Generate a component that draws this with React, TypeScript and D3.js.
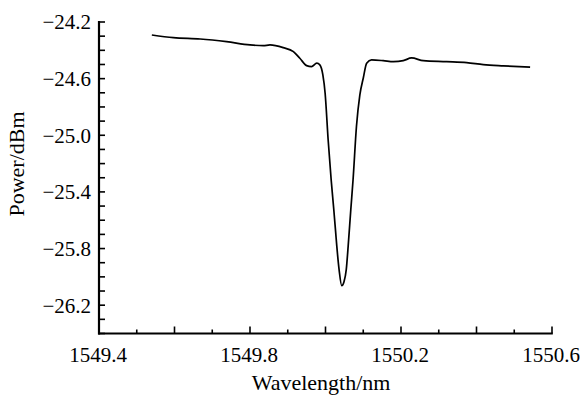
import React from "react";
import * as d3 from "d3";

const wavelength = [
  1549.54, 1549.597, 1549.668, 1549.738, 1549.8, 1549.835, 1549.853, 1549.888,
  1549.915, 1549.932, 1549.95, 1549.963, 1549.977, 1549.985, 1549.993, 1549.999,
  1550.007, 1550.015, 1550.022, 1550.027, 1550.03, 1550.036, 1550.043, 1550.049,
  1550.055, 1550.06, 1550.067, 1550.073, 1550.082, 1550.091, 1550.1, 1550.109,
  1550.122, 1550.153, 1550.18, 1550.206, 1550.228, 1550.259, 1550.321, 1550.374,
  1550.418, 1550.471, 1550.542,
];
const power = [
  -24.292, -24.311, -24.32, -24.339, -24.362, -24.367, -24.362, -24.381,
  -24.409, -24.456, -24.508, -24.515, -24.491, -24.503, -24.574, -24.703,
  -25.032, -25.314, -25.526, -25.688, -25.785, -25.949, -26.062, -26.034,
  -25.949, -25.785, -25.526, -25.314, -24.938, -24.715, -24.597, -24.491,
  -24.468, -24.473, -24.48, -24.473, -24.454, -24.473, -24.48, -24.487,
  -24.501, -24.51, -24.519,
];
const xTickLabels = [1549.4, 1549.8, 1550.2, 1550.6];
const yTickLabels = [-24.2, -24.6, -25.0, -25.4, -25.8, -26.2];
const xTitle = "Wavelength/nm";
const yTitle = "Power/dBm";

export default function App() {
  const W = 588, H = 396;
  const x = d3.scaleLinear().domain([1549.4, 1550.6]).range([99, 552]);
  const y = d3.scaleLinear().domain([-26.4, -24.2]).range([333.5, 22]);
  const pts: [number, number][] = wavelength.map((w, i) => [w, power[i]]);
  const line = d3
    .line<[number, number]>()
    .x((d) => x(d[0]))
    .y((d) => y(d[1]))
    .curve(d3.curveMonotoneX);
  const xMinor = d3.range(0, 13).map((i) => 1549.4 + i * 0.1);
  const yMinor = d3.range(0, 23).map((i) => -26.4 + i * 0.1);
  const fmt = d3.format(".1f");
  const fam = "Liberation Serif, Times New Roman, serif";
  const tf: React.CSSProperties = { fontFamily: fam, fontSize: 21 };
  const tt: React.CSSProperties = { fontFamily: fam, fontSize: 22 };
  const x0 = x.range()[0];
  const yb = y.range()[0];
  return (
    <svg
      width={W}
      height={H}
      style={{ position: "fixed", left: 0, top: 0, background: "#fff" }}
    >
      <rect width={W} height={H} fill="#fff" />
      {yMinor.map((v, i) => (
        <line key={"yt" + i} x1={x0} x2={x0 + 6} y1={y(v)} y2={y(v)} stroke="#000" strokeWidth={1.6} />
      ))}
      {xMinor.map((v, i) => (
        <line
          key={"xt" + i}
          x1={x(v)}
          x2={x(v)}
          y1={yb}
          y2={yb - (i % 2 === 0 ? 7 : 4)}
          stroke="#000"
          strokeWidth={1.6}
        />
      ))}
      <line x1={x0} x2={x0} y1={21} y2={yb + 1} stroke="#000" strokeWidth={2.2} />
      <line x1={x0 - 1} x2={x.range()[1] + 0.8} y1={yb} y2={yb} stroke="#000" strokeWidth={2.2} />
      {yTickLabels.map((v) => (
        <text key={"yl" + v} x={91} y={y(v)} dy="0.35em" textAnchor="end" style={tf}>
          {fmt(v)}
        </text>
      ))}
      {xTickLabels.map((v) => (
        <text key={"xl" + v} x={x(v) - 1} y={362} textAnchor="middle" style={tf}>
          {fmt(v)}
        </text>
      ))}
      <text x={321} y={390} textAnchor="middle" style={tt}>
        {xTitle}
      </text>
      <text transform={`translate(24,164) rotate(-90)`} textAnchor="middle" style={tt}>
        {yTitle}
      </text>
      <path d={line(pts) || ""} fill="none" stroke="#000" strokeWidth={1.7} strokeLinejoin="round" />
    </svg>
  );
}
